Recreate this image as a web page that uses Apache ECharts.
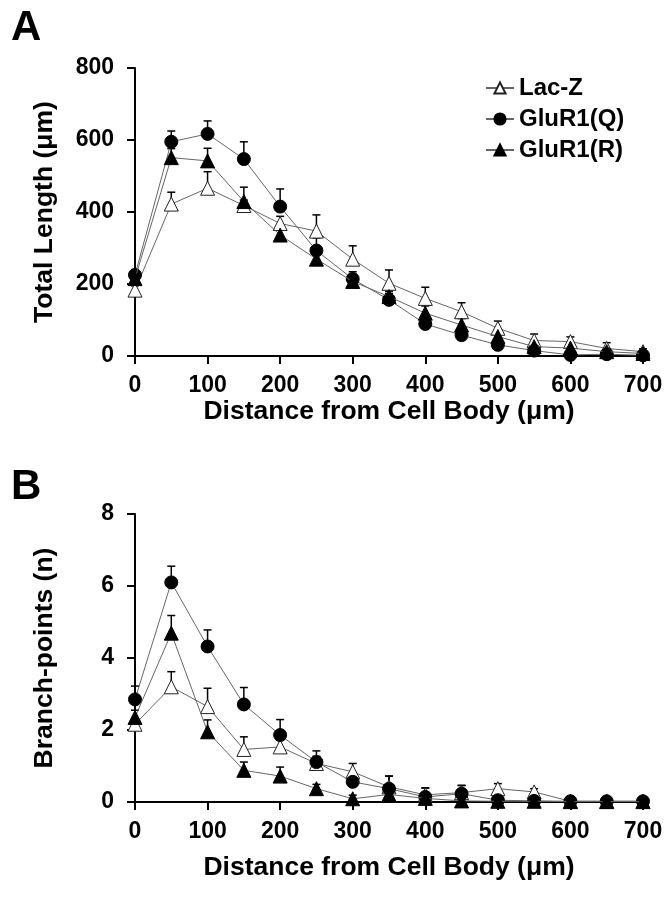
<!DOCTYPE html>
<html><head><meta charset="utf-8">
<script src="https://cdn.jsdelivr.net/npm/echarts@6/dist/echarts.min.js"></script>
<style>html,body{margin:0;padding:0;background:#fff}#c{width:672px;height:899px}</style>
</head><body><div id="c"></div>
<script>
var distances = [0,50,100,150,200,250,300,350,400,450,500,550,600,650,700];
var seriesNames = ['Lac-Z','GluR1(Q)','GluR1(R)'];
// Panel A: total length (um)
var lenLacZ = [183,422,466,418,368,347,269,202,160,123,77,43,40,21,12];
var lenLacZSem = [12,33,46,15,20,45,37,37,31,25,20,18,13,16,8];
var lenQ = [225,595,617,547,415,293,214,156,89,58,31,15,3,5,2];
var lenQSem = [15,30,36,48,49,35,20,18,15,12,10,8,5,5,3];
var lenR = [215,551,542,429,336,269,207,165,119,86,54,26,22,12,7];
var lenRSem = [15,25,35,40,20,20,15,15,20,18,15,10,8,6,4];
// Panel B: branch points (n)
var brLacZ = [2.16,3.2,2.65,1.46,1.53,1.07,0.84,0.42,0.2,0.26,0.37,0.28,0.02,0.02,0.02];
var brLacZSem = [0.15,0.42,0.51,0.35,0.2,0.2,0.23,0.3,0.19,0.2,0.14,0.09,0.02,0.02,0.02];
var brQ = [2.85,6.1,4.32,2.71,1.86,1.11,0.56,0.37,0.14,0.23,0.05,0.03,0.02,0.02,0.02];
var brQSem = [0.37,0.45,0.46,0.47,0.43,0.31,0.15,0.35,0.25,0.23,0.05,0.03,0.02,0.02,0.02];
var brR = [2.35,4.69,1.95,0.88,0.72,0.37,0.09,0.21,0.1,0.03,0.02,0.02,0.01,0.01,0.01];
var brRSem = [0.2,0.49,0.33,0.23,0.25,0.12,0.1,0.1,0.08,0.05,0.02,0.02,0.02,0.02,0.02];
// significance markers
var starAx = [50,100], starAy = [703,730];
var starBx = [50,100,150,200], starBy = [7.3,5.7,4.1,3.1];
// ticks
var xTicks = [0,100,200,300,400,500,600,700];
var yTicksA = [0,200,400,600,800];
var yTicksB = [0,2,4,6,8];

var FONT = 'Liberation Sans';
var chart = echarts.init(document.getElementById('c'));
function pairs(xs, ys){ return xs.map(function(x,i){return [x, ys[i]];}); }
function triples(xs, ys, es){ return xs.map(function(x,i){return [x, ys[i], es[i]];}); }

var styles = [
  {symbol:'triangle', size:14, color:'#fff', border:'#222'},
  {symbol:'circle', size:13, color:'#000', border:'#000'},
  {symbol:'triangle', size:14, color:'#000', border:'#000'}
];

function errSeries(idx, data){
  return {
    type:'custom', xAxisIndex:idx, yAxisIndex:idx, z:1, silent:true,
    data:data,
    renderItem:function(params, api){
      var p0 = api.coord([api.value(0), api.value(1)]);
      var p1 = api.coord([api.value(0), api.value(1)+api.value(2)]);
      return {type:'group', children:[
        {type:'line', shape:{x1:p0[0],y1:p0[1],x2:p1[0],y2:p1[1]}, style:{stroke:'#000',lineWidth:1.5}},
        {type:'line', shape:{x1:p1[0]-4,y1:p1[1],x2:p1[0]+4,y2:p1[1]}, style:{stroke:'#000',lineWidth:1.5}}
      ]};
    }
  };
}
function lineSeries(idx, name, si, ys){
  var s = styles[si];
  return {
    type:'line', name:name, xAxisIndex:idx, yAxisIndex:idx, z:2+si,
    data:pairs(distances, ys), symbol:s.symbol, symbolSize:s.size, showSymbol:true,
    lineStyle:{color:'#666', width:1},
    itemStyle:{color:s.color, borderColor:s.border, borderWidth:1},
    emphasis:{disabled:true}
  };
}
function starSeries(idx, xs, ys){
  return {
    type:'scatter', xAxisIndex:idx, yAxisIndex:idx, symbol:'none', silent:true,
    data:pairs(xs, ys),
    label:{show:true, position:'inside', formatter:'*', fontFamily:FONT, fontWeight:'bold', fontSize:30, color:'#000'}
  };
}
function xAxis(gridIdx, gap){
  return {
    type:'value', gridIndex:gridIdx, min:0, max:700, interval:100,
    name:'Distance from Cell Body (\u03bcm)', nameLocation:'middle', nameGap:gap,
    nameTextStyle:{fontFamily:FONT, fontWeight:'bold', fontSize:26.5, color:'#000'},
    axisLine:{onZero:false, lineStyle:{color:'#000', width:2}},
    axisTick:{show:true, length:8, lineStyle:{color:'#000', width:2}},
    axisLabel:{margin:18, fontFamily:FONT, fontWeight:'bold', fontSize:23, color:'#000',
      formatter:function(v){return xTicks.indexOf(v)>=0 ? String(v) : '';}},
    splitLine:{show:false}
  };
}
function yAxis(gridIdx, max, interval, name, ticks){
  return {
    type:'value', gridIndex:gridIdx, min:0, max:max, interval:interval,
    name:name, nameLocation:'middle', nameGap:77,
    nameTextStyle:{fontFamily:FONT, fontWeight:'bold', fontSize:26.5, color:'#000'},
    axisLine:{show:true, lineStyle:{color:'#000', width:2}},
    axisTick:{show:true, length:8, lineStyle:{color:'#000', width:2}},
    axisLabel:{margin:21, fontFamily:FONT, fontWeight:'bold', fontSize:23, color:'#000',
      formatter:function(v){return ticks.indexOf(v)>=0 ? String(v) : '';}},
    splitLine:{show:false}
  };
}

var option = {
  animation:false,
  backgroundColor:'#fff',
  title:[
    {text:'A', left:6, top:2, textStyle:{fontFamily:FONT, fontWeight:'bold', fontSize:42, color:'#000'}},
    {text:'B', left:6, top:461, textStyle:{fontFamily:FONT, fontWeight:'bold', fontSize:42, color:'#000'}}
  ],
  legend:{
    data:seriesNames, orient:'vertical', left:480, top:71, itemWidth:28, itemHeight:14, itemGap:7,
    textStyle:{fontFamily:FONT, fontWeight:'bold', fontSize:24, color:'#000'}
  },
  grid:[
    {left:135, right:29, top:68, height:288},
    {left:135, right:29, top:514, height:288}
  ],
  xAxis:[xAxis(0,42), xAxis(1,52)],
  yAxis:[yAxis(0,800,200,'Total Length (\u03bcm)',yTicksA), yAxis(1,8,2,'Branch-points (n)',yTicksB)],
  series:[
    errSeries(0, triples(distances, lenLacZ, lenLacZSem)),
    errSeries(0, triples(distances, lenQ, lenQSem)),
    errSeries(0, triples(distances, lenR, lenRSem)),
    lineSeries(0, seriesNames[0], 0, lenLacZ),
    lineSeries(0, seriesNames[1], 1, lenQ),
    lineSeries(0, seriesNames[2], 2, lenR),
    errSeries(1, triples(distances, brLacZ, brLacZSem)),
    errSeries(1, triples(distances, brQ, brQSem)),
    errSeries(1, triples(distances, brR, brRSem)),
    lineSeries(1, seriesNames[0], 0, brLacZ),
    lineSeries(1, seriesNames[1], 1, brQ),
    lineSeries(1, seriesNames[2], 2, brR),
    starSeries(0, starAx, starAy),
    starSeries(1, starBx, starBy)
  ]
};
chart.setOption(option);
</script></body></html>
